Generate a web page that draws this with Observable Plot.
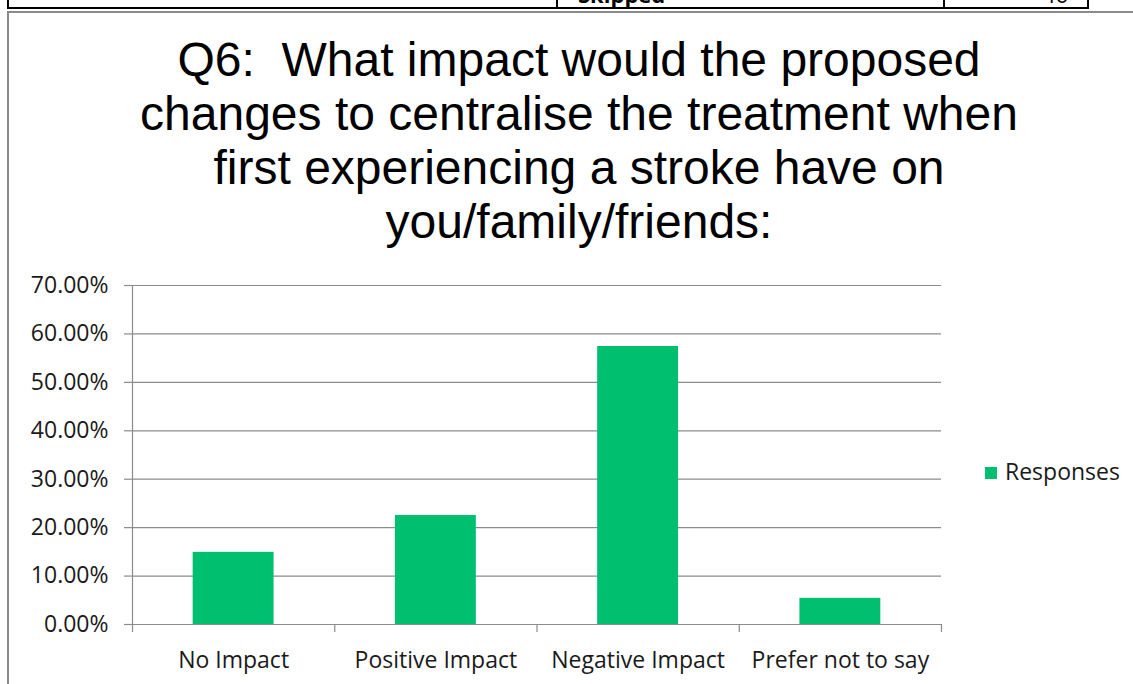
<!DOCTYPE html>
<html>
<head>
<meta charset="utf-8">
<script src="https://cdn.jsdelivr.net/npm/d3@7"></script>
<script src="https://cdn.jsdelivr.net/npm/@observablehq/plot@0.6"></script>
<style>
  html, body { margin: 0; padding: 0; background: #fff; }
  #page { position: relative; width: 1133px; height: 684px; overflow: hidden; background: #fff; }
  .abs { position: absolute; }
  #title { left: 79px; top: 33px; width: 1000px; text-align: center; font-family: "Liberation Sans", Arial, sans-serif; font-size: 48px; line-height: 54px; color: #000; }
  #legend { left: 985px; top: 460px; font-family: "Open Sans", sans-serif; font-size: 23px; line-height: 23px; color: #1a1a1a; white-space: nowrap; }
  #legend .sw { position: absolute; left: 0; top: 7px; width: 12px; height: 12px; }
  #legend .lb { position: absolute; left: 20px; top: 0; }
</style>
</head>
<body>
<div id="page">
  <!-- table fragment above the chart -->
  <div class="abs" style="left:7px; top:-30px; width:1078px; height:37px; border-left:2px solid #000; border-right:2px solid #000; border-bottom:2px solid #000;"></div>
  <div class="abs" style="left:556px; top:0; width:2px; height:8px; background:#000;"></div>
  <div class="abs" style="left:943px; top:0; width:2px; height:8px; background:#000;"></div>
  <div class="abs" id="skipped" style="left:578px; top:-17px; font-family:'Open Sans',sans-serif; font-weight:bold; font-size:22px; line-height:22px; color:#000;"></div>
  <div class="abs" id="skippedN" style="left:960px; width:108px; text-align:right; top:-17px; font-family:'Open Sans',sans-serif; font-size:22px; line-height:22px; color:#000;"></div>
  <!-- chart frame -->
  <div class="abs" style="left:7px; top:11px; width:1200px; height:700px; border-left:2px solid #8a8a8a; border-top:2px solid #8a8a8a;"></div>
  <div class="abs" id="title"></div>
  <div class="abs" id="chart" style="left:0; top:260px;"></div>
  <div class="abs" id="legend"><div class="sw"></div><div class="lb"></div></div>
</div>
<script>
// ---- data ----
const titleLines = [
  "Q6:\u00a0 What impact would the proposed",
  "changes to centralise the treatment when",
  "first experiencing a stroke have on",
  "you/family/friends:"
];
const categories = ["No Impact", "Positive Impact", "Negative Impact", "Prefer not to say"];
const responses = [0.149, 0.225, 0.574, 0.054];
const seriesName = "Responses";
const yTicks = [0, 0.1, 0.2, 0.3, 0.4, 0.5, 0.6, 0.7];
const headerTexts = ["Skipped", "46"];

const barColor = "#00bf6f";
const gridColor = "#8c8c8c";
const font = "'Open Sans', sans-serif";

document.getElementById("title").innerHTML = titleLines.join("<br>");
document.getElementById("skipped").textContent = headerTexts[0];
document.getElementById("skippedN").textContent = headerTexts[1];
document.querySelector("#legend .sw").style.background = barColor;
document.querySelector("#legend .lb").textContent = seriesName;

const data = categories.map((c, i) => ({category: c, index: i, value: responses[i]}));
const boundaries = d3.range(categories.length + 1);
const centers = categories.map((c, i) => i + 0.5);

const chart = Plot.plot({
  width: 960,
  height: 424,
  marginLeft: 132,
  marginRight: 19,
  marginTop: 25,
  marginBottom: 60,
  style: {fontFamily: font, fontSize: "23px", color: "#1a1a1a", background: "transparent"},
  x: {type: "linear", domain: [0, categories.length]},
  y: {domain: [0, 0.7]},
  marks: [
    Plot.gridY(yTicks, {stroke: gridColor, strokeOpacity: 1, strokeWidth: 1.2}),
    Plot.rectY(data, {x1: d => d.index + 0.3, x2: d => d.index + 0.7, y: "value", fill: barColor}),
    Plot.ruleX([0], {stroke: gridColor, strokeWidth: 1.2}),
    Plot.ruleY([0], {stroke: gridColor, strokeWidth: 1.2}),
    Plot.axisY(yTicks, {tickFormat: d3.format(".2%"), tickSize: 8, tickPadding: 16, stroke: gridColor, strokeWidth: 1.2, fill: "#1a1a1a", fontSize: 23, label: null}),
    Plot.axisX(boundaries, {tickFormat: () => "", tickSize: 8, stroke: gridColor, strokeWidth: 1.2, label: null}),
    Plot.axisX(centers, {tickFormat: d => categories[Math.floor(d)], tickSize: 0, tickPadding: 27, fill: "#1a1a1a", fontSize: 23, label: null})
  ]
});
document.getElementById("chart").appendChild(chart);
</script>
</body>
</html>
